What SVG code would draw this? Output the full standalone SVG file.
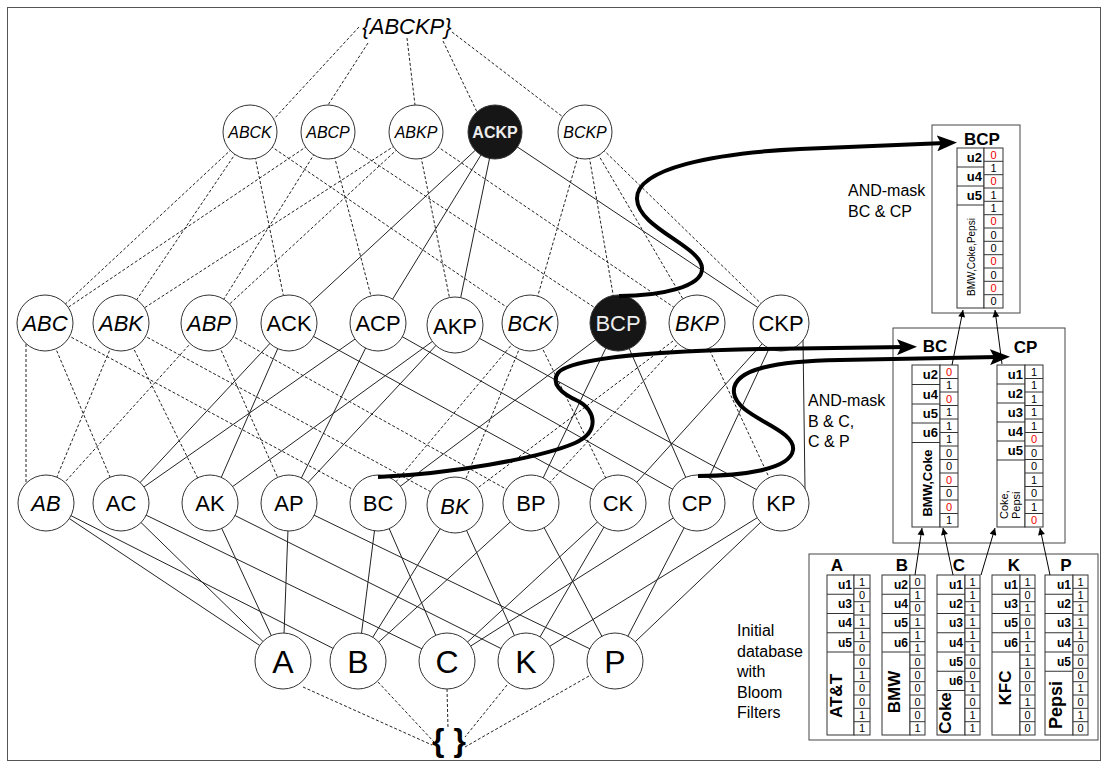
<svg xmlns="http://www.w3.org/2000/svg" width="1109" height="769" viewBox="0 0 1109 769">
<defs>
<marker id="big" markerUnits="userSpaceOnUse" viewBox="0 0 20 16" markerWidth="20" markerHeight="16" refX="8" refY="8" orient="auto"><path d="M0,0 L20,8 L0,16 L4,8 Z" fill="#000"/></marker>
<marker id="sm" markerUnits="userSpaceOnUse" viewBox="0 0 8 8" markerWidth="8" markerHeight="7" refX="8" refY="4" orient="auto"><path d="M0,0 L8,4 L0,8 Z" fill="#000"/></marker>
</defs>
<style>
text{font-family:"Liberation Sans",Arial,sans-serif;fill:#000}
.node circle{fill:#fff;stroke:#333;stroke-width:1}
.node.dark circle{fill:#161616}
.node text{text-anchor:middle}
.l3{font-size:22px}
.l4{font-size:16px}
.l1{font-size:32px}
.it{font-style:italic}
.wt{fill:#ececec}
.bd{font-weight:bold}
.e line{stroke:#222;stroke-width:1}
.e line.d{stroke-dasharray:3 2}
.thick{fill:none;stroke:#000;stroke-width:4;marker-end:url(#big)}
.thin{stroke:#000;stroke-width:1;marker-end:url(#sm)}
.box{fill:#fff;stroke:#444;stroke-width:1}
.cell{fill:#fff;stroke:#333;stroke-width:1}
.grid{stroke:#333;stroke-width:1;fill:none}
.ttl{font-size:17px;font-weight:bold;text-anchor:middle}
.u{font-size:13px;font-weight:bold;text-anchor:end}
.u12{font-size:12px;font-weight:bold;text-anchor:end}
.v{font-size:11px;text-anchor:middle}
.r{fill:#ee0000}
.note{font-size:16px}
</style>
<rect x="7.5" y="7.5" width="1093" height="753" fill="#fff" stroke="#555" stroke-width="1"/>

<g id="connectors" class="e">
<!-- top -->
<line class="d" x1="359" y1="27" x2="273" y2="120"/>
<line class="d" x1="368" y1="43" x2="328" y2="105"/>
<line class="d" x1="407" y1="38" x2="415" y2="105"/>
<line class="d" x1="443" y1="41" x2="477" y2="112"/>
<line class="d" x1="452" y1="32" x2="563" y2="117"/>
<!-- level4 to level3 -->
<line class="d" x1="250" y1="132" x2="45" y2="323"/>
<line class="d" x1="250" y1="132" x2="121" y2="323"/>
<line class="d" x1="250" y1="132" x2="289" y2="323"/>
<line class="d" x1="250" y1="132" x2="530" y2="323"/>
<line class="d" x1="328" y1="132" x2="45" y2="323"/>
<line class="d" x1="328" y1="132" x2="209" y2="323"/>
<line class="d" x1="328" y1="132" x2="378" y2="323"/>
<line class="d" x1="328" y1="132" x2="618" y2="323"/>
<line class="d" x1="416" y1="132" x2="121" y2="323"/>
<line class="d" x1="416" y1="132" x2="209" y2="323"/>
<line class="d" x1="416" y1="132" x2="455" y2="325"/>
<line class="d" x1="416" y1="132" x2="697" y2="323"/>
<line x1="495" y1="132" x2="289" y2="323"/>
<line x1="495" y1="132" x2="378" y2="323"/>
<line x1="495" y1="132" x2="455" y2="325"/>
<line x1="495" y1="132" x2="781" y2="323"/>
<line class="d" x1="585" y1="132" x2="530" y2="323"/>
<line class="d" x1="585" y1="132" x2="618" y2="323"/>
<line class="d" x1="585" y1="132" x2="697" y2="323"/>
<line class="d" x1="585" y1="132" x2="781" y2="323"/>
<!-- level3 to level2 -->
<line class="d" x1="26" y1="344" x2="26" y2="485"/>
<line class="d" x1="45" y1="323" x2="121" y2="503"/>
<line class="d" x1="45" y1="323" x2="378" y2="503"/>
<line class="d" x1="121" y1="323" x2="46" y2="503"/>
<line class="d" x1="121" y1="323" x2="210" y2="503"/>
<line class="d" x1="121" y1="323" x2="455" y2="505"/>
<line class="d" x1="209" y1="323" x2="46" y2="503"/>
<line class="d" x1="209" y1="323" x2="289" y2="503"/>
<line class="d" x1="209" y1="323" x2="531" y2="503"/>
<line x1="289" y1="323" x2="121" y2="503"/>
<line x1="289" y1="323" x2="210" y2="503"/>
<line x1="289" y1="323" x2="618" y2="503"/>
<line x1="378" y1="323" x2="121" y2="503"/>
<line x1="378" y1="323" x2="289" y2="503"/>
<line x1="378" y1="323" x2="697" y2="503"/>
<line x1="455" y1="325" x2="210" y2="503"/>
<line x1="455" y1="325" x2="289" y2="503"/>
<line x1="455" y1="325" x2="781" y2="503"/>
<line class="d" x1="530" y1="323" x2="378" y2="503"/>
<line class="d" x1="530" y1="323" x2="455" y2="505"/>
<line class="d" x1="530" y1="323" x2="618" y2="503"/>
<line x1="618" y1="323" x2="378" y2="503"/>
<line x1="618" y1="323" x2="531" y2="503"/>
<line x1="618" y1="323" x2="697" y2="503"/>
<line class="d" x1="697" y1="323" x2="455" y2="505"/>
<line class="d" x1="697" y1="323" x2="531" y2="503"/>
<line class="d" x1="697" y1="323" x2="781" y2="503"/>
<line x1="781" y1="323" x2="618" y2="503"/>
<line x1="781" y1="323" x2="697" y2="503"/>
<line x1="803" y1="340" x2="805" y2="489"/>
<!-- level2 to level1 -->
<line x1="46" y1="503" x2="283" y2="661"/>
<line x1="46" y1="503" x2="358" y2="661"/>
<line x1="121" y1="503" x2="283" y2="661"/>
<line x1="121" y1="503" x2="447" y2="661"/>
<line x1="210" y1="503" x2="283" y2="661"/>
<line x1="210" y1="503" x2="526" y2="661"/>
<line x1="289" y1="503" x2="283" y2="661"/>
<line x1="289" y1="503" x2="615" y2="661"/>
<line x1="378" y1="503" x2="358" y2="661"/>
<line x1="378" y1="503" x2="447" y2="661"/>
<line x1="455" y1="505" x2="358" y2="661"/>
<line x1="455" y1="505" x2="526" y2="661"/>
<line x1="531" y1="503" x2="358" y2="661"/>
<line x1="531" y1="503" x2="615" y2="661"/>
<line x1="618" y1="503" x2="447" y2="661"/>
<line x1="618" y1="503" x2="526" y2="661"/>
<line x1="697" y1="503" x2="447" y2="661"/>
<line x1="697" y1="503" x2="615" y2="661"/>
<line x1="781" y1="503" x2="526" y2="661"/>
<line x1="781" y1="503" x2="615" y2="661"/>
<!-- to empty set -->
<line class="d" x1="303" y1="687" x2="432" y2="745"/>
<line class="d" x1="378" y1="682" x2="434" y2="742"/>
<line class="d" x1="447" y1="689" x2="448" y2="728"/>
<line class="d" x1="507" y1="685" x2="465" y2="737"/>
<line class="d" x1="589" y1="676" x2="465" y2="747"/>
</g>

<g id="nodes">
<g id="n-ABCKP"><text x="407" y="34" class="it" font-size="22" text-anchor="middle">{ABCKP}</text></g>
<g id="n-ABCK" class="node"><circle cx="250" cy="132" r="27"/><text x="250" y="138" class="l4 it">ABCK</text></g>
<g id="n-ABCP" class="node"><circle cx="328" cy="132" r="27"/><text x="328" y="138" class="l4 it">ABCP</text></g>
<g id="n-ABKP" class="node"><circle cx="416" cy="132" r="27"/><text x="416" y="138" class="l4 it">ABKP</text></g>
<g id="n-ACKP" class="node dark"><circle cx="495" cy="132" r="27"/><text x="495" y="138" class="l4 bd wt">ACKP</text></g>
<g id="n-BCKP" class="node"><circle cx="585" cy="132" r="27"/><text x="585" y="138" class="l4 it">BCKP</text></g>

<g id="n-ABC" class="node"><circle cx="45" cy="323" r="28"/><text x="45" y="331" class="l3 it">ABC</text></g>
<g id="n-ABK" class="node"><circle cx="121" cy="323" r="28"/><text x="121" y="331" class="l3 it">ABK</text></g>
<g id="n-ABP" class="node"><circle cx="209" cy="323" r="28"/><text x="209" y="331" class="l3 it">ABP</text></g>
<g id="n-ACK" class="node"><circle cx="289" cy="323" r="28"/><text x="289" y="331" class="l3">ACK</text></g>
<g id="n-ACP" class="node"><circle cx="378" cy="323" r="28"/><text x="378" y="331" class="l3">ACP</text></g>
<g id="n-AKP" class="node"><circle cx="455" cy="325" r="28"/><text x="455" y="334" class="l3">AKP</text></g>
<g id="n-BCK" class="node"><circle cx="530" cy="323" r="28"/><text x="530" y="331" class="l3 it">BCK</text></g>
<g id="n-BCP" class="node dark"><circle cx="618" cy="323" r="28"/><text x="618" y="331" class="l3 wt">BCP</text></g>
<g id="n-BKP" class="node"><circle cx="697" cy="323" r="28"/><text x="697" y="331" class="l3 it">BKP</text></g>
<g id="n-CKP" class="node"><circle cx="781" cy="323" r="28"/><text x="781" y="331" class="l3">CKP</text></g>

<g id="n-AB" class="node"><circle cx="46" cy="503" r="28"/><text x="46" y="511" class="l3 it">AB</text></g>
<g id="n-AC" class="node"><circle cx="121" cy="503" r="28"/><text x="121" y="511" class="l3">AC</text></g>
<g id="n-AK" class="node"><circle cx="210" cy="503" r="28"/><text x="210" y="511" class="l3">AK</text></g>
<g id="n-AP" class="node"><circle cx="289" cy="503" r="28"/><text x="289" y="511" class="l3">AP</text></g>
<g id="n-BC" class="node"><circle cx="378" cy="503" r="28"/><text x="378" y="511" class="l3">BC</text></g>
<g id="n-BK" class="node"><circle cx="455" cy="505" r="28"/><text x="455" y="514" class="l3 it">BK</text></g>
<g id="n-BP" class="node"><circle cx="531" cy="503" r="28"/><text x="531" y="511" class="l3">BP</text></g>
<g id="n-CK" class="node"><circle cx="618" cy="503" r="28"/><text x="618" y="511" class="l3">CK</text></g>
<g id="n-CP" class="node"><circle cx="697" cy="503" r="28"/><text x="697" y="511" class="l3">CP</text></g>
<g id="n-KP" class="node"><circle cx="781" cy="503" r="28"/><text x="781" y="511" class="l3">KP</text></g>

<g id="n-A" class="node"><circle cx="283" cy="661" r="28"/><text x="283" y="673" class="l1">A</text></g>
<g id="n-B" class="node"><circle cx="358" cy="661" r="28"/><text x="358" y="673" class="l1">B</text></g>
<g id="n-C" class="node"><circle cx="447" cy="661" r="28"/><text x="447" y="673" class="l1">C</text></g>
<g id="n-K" class="node"><circle cx="526" cy="661" r="28"/><text x="526" y="673" class="l1">K</text></g>
<g id="n-P" class="node"><circle cx="615" cy="661" r="28"/><text x="615" y="673" class="l1">P</text></g>
<g id="n-empty"><text x="449" y="751" font-size="32" font-weight="bold" text-anchor="middle">{ }</text></g>
</g>

<!-- panel BCP -->
<g id="panel-BCP">
<rect class="box" x="932" y="125" width="88" height="188"/>
<text class="ttl" x="982" y="145">BCP</text>
<rect class="cell" x="957" y="148" width="27" height="160"/>
<path class="grid" d="M957 167H984M957 186H984M957 205H984"/>
<rect class="cell" x="984" y="148" width="19" height="160"/>
<path class="grid" d="M984 161.3H1003M984 174.7H1003M984 188H1003M984 201.3H1003M984 214.7H1003M984 228H1003M984 241.3H1003M984 254.7H1003M984 268H1003M984 281.3H1003M984 294.7H1003"/>
<text class="u" x="982" y="162">u2</text><text class="u" x="982" y="181">u4</text><text class="u" x="982" y="200">u5</text>
<text transform="translate(975,257) rotate(-90)" font-size="10" text-anchor="middle">BMW,Coke,Pepsi</text>
<text class="v r" x="993.5" y="158.7">0</text><text class="v" x="993.5" y="172">1</text><text class="v r" x="993.5" y="185.3">0</text><text class="v" x="993.5" y="198.7">1</text><text class="v" x="993.5" y="212">1</text><text class="v r" x="993.5" y="225.3">0</text><text class="v" x="993.5" y="238.7">0</text><text class="v" x="993.5" y="252">0</text><text class="v r" x="993.5" y="265.3">0</text><text class="v" x="993.5" y="278.7">0</text><text class="v r" x="993.5" y="292">0</text><text class="v" x="993.5" y="305.3">0</text>
</g>
<text class="note" x="848" y="196">AND-mask</text>
<text class="note" x="848" y="217">BC &amp; CP</text>

<!-- panel BC / CP -->
<g id="panel-BC-CP">
<rect class="box" x="893" y="328" width="172" height="215"/>
</g>
<g id="table-BC">
<text class="ttl" x="935" y="352">BC</text>
<rect class="cell" x="912" y="365" width="28" height="162"/>
<path class="grid" d="M912 384.5H940M912 404H940M912 423H940M912 442.5H940"/>
<rect class="cell" x="940" y="365" width="18" height="162"/>
<path class="grid" d="M940 378.5H958M940 392H958M940 405.5H958M940 419H958M940 432.5H958M940 446H958M940 459.5H958M940 473H958M940 486.5H958M940 500H958M940 513.5H958"/>
<text class="u" x="938" y="379.3">u2</text><text class="u" x="938" y="398.8">u4</text><text class="u" x="938" y="418">u5</text><text class="u" x="938" y="437.3">u6</text>
<text transform="translate(931.5,483) rotate(-90)" font-size="13" font-weight="bold" text-anchor="middle">BMW,Coke</text>
<text class="v r" x="949" y="375.8">0</text><text class="v" x="949" y="389.3">1</text><text class="v r" x="949" y="402.8">0</text><text class="v" x="949" y="416.3">1</text><text class="v" x="949" y="429.8">1</text><text class="v" x="949" y="443.3">1</text><text class="v" x="949" y="456.8">0</text><text class="v" x="949" y="470.3">0</text><text class="v r" x="949" y="483.8">0</text><text class="v" x="949" y="497.3">0</text><text class="v r" x="949" y="510.8">0</text><text class="v" x="949" y="524.3">1</text>
</g>
<g id="table-CP">
<text class="ttl" x="1025.5" y="353">CP</text>
<rect class="cell" x="997" y="365" width="28" height="162"/>
<path class="grid" d="M997 384H1025M997 403H1025M997 422H1025M997 441H1025M997 460H1025"/>
<rect class="cell" x="1025" y="365" width="18" height="162"/>
<path class="grid" d="M1025 378.5H1043M1025 392H1043M1025 405.5H1043M1025 419H1043M1025 432.5H1043M1025 446H1043M1025 459.5H1043M1025 473H1043M1025 486.5H1043M1025 500H1043M1025 513.5H1043"/>
<text class="u" x="1023" y="379">u1</text><text class="u" x="1023" y="398">u2</text><text class="u" x="1023" y="417">u3</text><text class="u" x="1023" y="436">u4</text><text class="u" x="1023" y="455">u5</text>
<text transform="translate(1007.5,519) rotate(-90)" font-size="11">Coke,</text>
<text transform="translate(1020,519) rotate(-90)" font-size="11">Pepsi</text>
<text class="v" x="1034" y="375.8">1</text><text class="v" x="1034" y="389.3">1</text><text class="v" x="1034" y="402.8">1</text><text class="v" x="1034" y="416.3">1</text><text class="v" x="1034" y="429.8">1</text><text class="v r" x="1034" y="443.3">0</text><text class="v" x="1034" y="456.8">0</text><text class="v" x="1034" y="470.3">0</text><text class="v" x="1034" y="483.8">1</text><text class="v" x="1034" y="497.3">0</text><text class="v" x="1034" y="510.8">1</text><text class="v r" x="1034" y="524.3">0</text>
</g>
<text class="note" x="808" y="406">AND-mask</text>
<text class="note" x="808" y="427">B &amp; C,</text>
<text class="note" x="808" y="447">C &amp; P</text>

<!-- initial database -->
<text class="note" x="737" y="636">Initial</text>
<text class="note" x="737" y="657">database</text>
<text class="note" x="737" y="677">with</text>
<text class="note" x="737" y="698">Bloom</text>
<text class="note" x="737" y="718">Filters</text>
<g id="panel-initial"><rect class="box" x="809" y="554" width="289" height="186"/></g>

<g id="table-A">
<text class="ttl" x="837" y="571">A</text>
<rect class="cell" x="827" y="575" width="27" height="160"/>
<path class="grid" d="M827 594.25H854M827 613.5H854M827 632.75H854M827 652H854"/>
<rect class="cell" x="854" y="575" width="16" height="160"/>
<path class="grid" d="M854 588.3H870M854 601.7H870M854 615H870M854 628.3H870M854 641.7H870M854 655H870M854 668.3H870M854 681.7H870M854 695H870M854 708.3H870M854 721.7H870"/>
<text class="u12" x="852" y="589">u1</text><text class="u12" x="852" y="608.2">u3</text><text class="u12" x="852" y="627.4">u4</text><text class="u12" x="852" y="646.7">u5</text>
<text transform="translate(842,696) rotate(-90)" font-size="17" font-weight="bold" text-anchor="middle">AT&amp;T</text>
<text class="v" x="862" y="585.7">1</text><text class="v" x="862" y="599">0</text><text class="v" x="862" y="612.3">1</text><text class="v" x="862" y="625.7">1</text><text class="v" x="862" y="639">1</text><text class="v" x="862" y="652.3">0</text><text class="v" x="862" y="665.7">0</text><text class="v" x="862" y="679">1</text><text class="v" x="862" y="692.3">0</text><text class="v" x="862" y="705.7">0</text><text class="v" x="862" y="719">1</text><text class="v" x="862" y="732.3">1</text>
</g>
<g id="table-B">
<text class="ttl" x="902" y="571">B</text>
<rect class="cell" x="882" y="575" width="28" height="160"/>
<path class="grid" d="M882 594.25H910M882 613.5H910M882 632.75H910M882 652H910"/>
<rect class="cell" x="910" y="575" width="15" height="160"/>
<path class="grid" d="M910 588.3H925M910 601.7H925M910 615H925M910 628.3H925M910 641.7H925M910 655H925M910 668.3H925M910 681.7H925M910 695H925M910 708.3H925M910 721.7H925"/>
<text class="u12" x="908" y="589">u2</text><text class="u12" x="908" y="608.2">u4</text><text class="u12" x="908" y="627.4">u5</text><text class="u12" x="908" y="646.7">u6</text>
<text transform="translate(900,692) rotate(-90)" font-size="17" font-weight="bold" text-anchor="middle">BMW</text>
<text class="v" x="917.5" y="585.7">0</text><text class="v" x="917.5" y="599">1</text><text class="v" x="917.5" y="612.3">0</text><text class="v" x="917.5" y="625.7">1</text><text class="v" x="917.5" y="639">1</text><text class="v" x="917.5" y="652.3">1</text><text class="v" x="917.5" y="665.7">0</text><text class="v" x="917.5" y="679">0</text><text class="v" x="917.5" y="692.3">0</text><text class="v" x="917.5" y="705.7">0</text><text class="v" x="917.5" y="719">0</text><text class="v" x="917.5" y="732.3">1</text>
</g>
<g id="table-C">
<text class="ttl" x="959" y="571">C</text>
<rect class="cell" x="937" y="575" width="28" height="160"/>
<path class="grid" d="M937 594.25H965M937 613.5H965M937 632.75H965M937 652H965M937 671.25H965M937 690.5H965"/>
<rect class="cell" x="965" y="575" width="15" height="160"/>
<path class="grid" d="M965 588.3H980M965 601.7H980M965 615H980M965 628.3H980M965 641.7H980M965 655H980M965 668.3H980M965 681.7H980M965 695H980M965 708.3H980M965 721.7H980"/>
<text class="u12" x="963" y="589">u1</text><text class="u12" x="963" y="608.2">u2</text><text class="u12" x="963" y="627.4">u3</text><text class="u12" x="963" y="646.7">u4</text><text class="u12" x="963" y="665.9">u5</text><text class="u12" x="963" y="685.2">u6</text>
<text transform="translate(951,713) rotate(-90)" font-size="17" font-weight="bold" text-anchor="middle">Coke</text>
<text class="v" x="972.5" y="585.7">1</text><text class="v" x="972.5" y="599">1</text><text class="v" x="972.5" y="612.3">1</text><text class="v" x="972.5" y="625.7">1</text><text class="v" x="972.5" y="639">1</text><text class="v" x="972.5" y="652.3">1</text><text class="v" x="972.5" y="665.7">0</text><text class="v" x="972.5" y="679">0</text><text class="v" x="972.5" y="692.3">1</text><text class="v" x="972.5" y="705.7">0</text><text class="v" x="972.5" y="719">1</text><text class="v" x="972.5" y="732.3">1</text>
</g>
<g id="table-K">
<text class="ttl" x="1014" y="571">K</text>
<rect class="cell" x="992" y="575" width="28" height="160"/>
<path class="grid" d="M992 594.25H1020M992 613.5H1020M992 632.75H1020M992 652H1020"/>
<rect class="cell" x="1020" y="575" width="15" height="160"/>
<path class="grid" d="M1020 588.3H1035M1020 601.7H1035M1020 615H1035M1020 628.3H1035M1020 641.7H1035M1020 655H1035M1020 668.3H1035M1020 681.7H1035M1020 695H1035M1020 708.3H1035M1020 721.7H1035"/>
<text class="u12" x="1018" y="589">u1</text><text class="u12" x="1018" y="608.2">u3</text><text class="u12" x="1018" y="627.4">u5</text><text class="u12" x="1018" y="646.7">u6</text>
<text transform="translate(1011,688) rotate(-90)" font-size="17" font-weight="bold" text-anchor="middle">KFC</text>
<text class="v" x="1027.5" y="585.7">1</text><text class="v" x="1027.5" y="599">0</text><text class="v" x="1027.5" y="612.3">1</text><text class="v" x="1027.5" y="625.7">0</text><text class="v" x="1027.5" y="639">1</text><text class="v" x="1027.5" y="652.3">1</text><text class="v" x="1027.5" y="665.7">1</text><text class="v" x="1027.5" y="679">0</text><text class="v" x="1027.5" y="692.3">0</text><text class="v" x="1027.5" y="705.7">1</text><text class="v" x="1027.5" y="719">0</text><text class="v" x="1027.5" y="732.3">0</text>
</g>
<g id="table-P">
<text class="ttl" x="1066" y="571">P</text>
<rect class="cell" x="1045" y="575" width="28" height="160"/>
<path class="grid" d="M1045 594.25H1073M1045 613.5H1073M1045 632.75H1073M1045 652H1073M1045 671.25H1073"/>
<rect class="cell" x="1073" y="575" width="15" height="160"/>
<path class="grid" d="M1073 588.3H1088M1073 601.7H1088M1073 615H1088M1073 628.3H1088M1073 641.7H1088M1073 655H1088M1073 668.3H1088M1073 681.7H1088M1073 695H1088M1073 708.3H1088M1073 721.7H1088"/>
<text class="u12" x="1071" y="589">u1</text><text class="u12" x="1071" y="608.2">u2</text><text class="u12" x="1071" y="627.4">u3</text><text class="u12" x="1071" y="646.7">u4</text><text class="u12" x="1071" y="665.9">u5</text>
<text transform="translate(1062,705) rotate(-90)" font-size="18" font-weight="bold" text-anchor="middle">Pepsi</text>
<text class="v" x="1080.5" y="585.7">1</text><text class="v" x="1080.5" y="599">1</text><text class="v" x="1080.5" y="612.3">1</text><text class="v" x="1080.5" y="625.7">1</text><text class="v" x="1080.5" y="639">1</text><text class="v" x="1080.5" y="652.3">0</text><text class="v" x="1080.5" y="665.7">0</text><text class="v" x="1080.5" y="679">0</text><text class="v" x="1080.5" y="692.3">1</text><text class="v" x="1080.5" y="705.7">0</text><text class="v" x="1080.5" y="719">1</text><text class="v" x="1080.5" y="732.3">0</text>
</g>

<g id="flow-connectors">
<path class="thick" d="M619,296 C660,296 703,287 702,268 C701,246 638,228 637,199 C636,168 716,153 800,149 L945,143"/>
<path class="thick" d="M378,477 C450,474 540,458 575,443 C600,432 596,410 578,401 C560,393 551,383 558,373 C570,358 660,351 760,349 L905,347"/>
<path class="thick" d="M698,476 C740,476 790,470 793,450 C796,428 737,418 734,393 C731,368 780,361 840,360 L998,357"/>
<line class="thin" x1="952" y1="365" x2="963" y2="310"/>
<line class="thin" x1="1002" y1="364" x2="995" y2="310"/>
<line class="thin" x1="915" y1="575" x2="922" y2="528"/>
<line class="thin" x1="953" y1="575" x2="943" y2="528"/>
<line class="thin" x1="981" y1="575" x2="995" y2="528"/>
<line class="thin" x1="1050" y1="575" x2="1040" y2="528"/>
</g>
</svg>
